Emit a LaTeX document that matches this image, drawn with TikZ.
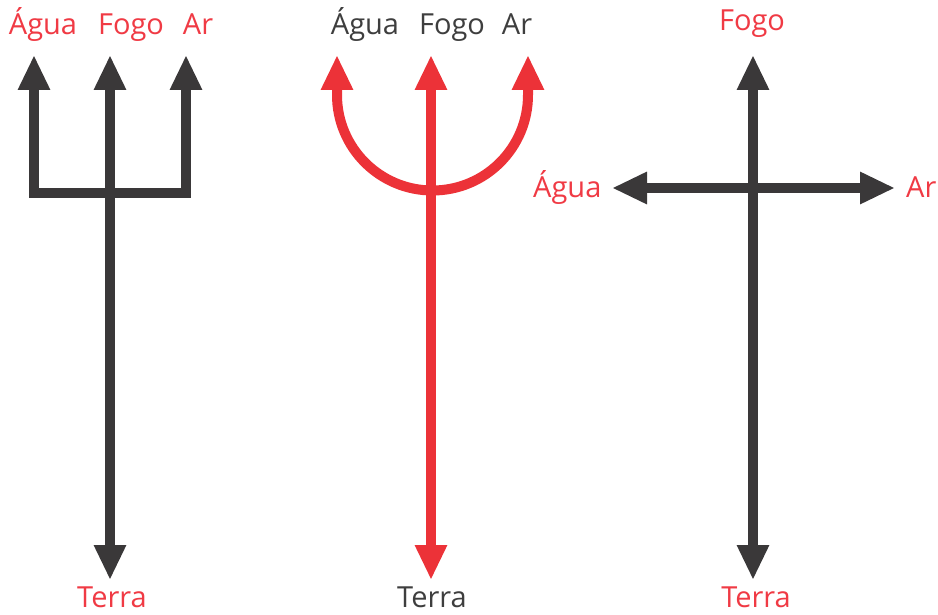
\documentclass[tikz,border=0pt]{standalone}
\usepackage{fontspec}
\setmainfont{Open Sans}
\usetikzlibrary{arrows.meta}
\definecolor{dk}{RGB}{58,56,57}
\definecolor{rd}{RGB}{236,50,56}
\definecolor{lrd}{RGB}{240,58,68}
\definecolor{gy}{RGB}{62,62,62}
\begin{document}
\begin{tikzpicture}[x=1pt,y=-1pt,
  arr/.style={line width=10pt,line join=miter,{Triangle[width=30pt,length=35pt]}-{Triangle[width=30pt,length=35pt]}},
  lab/.style={font=\fontsize{29}{32}\selectfont,inner sep=0pt,anchor=base}]
\fill[white] (0,0) rectangle (938,615);
\useasboundingbox (0,0) rectangle (938,615);
% labels
\node[lab,lrd] (a1) at (43,35) {Água};
\node[lab,lrd] (f1) at (131,35) {Fogo};
\node[lab,lrd] (r1) at (198,35) {Ar};
\node[lab,lrd] (t1) at (112,607) {Terra};
\node[lab,gy] (a2) at (365,35) {Água};
\node[lab,gy] (f2) at (452,35) {Fogo};
\node[lab,gy] (r2) at (517,35) {Ar};
\node[lab,gy] (t2) at (432,607) {Terra};
\node[lab,lrd] (f3) at (752,31) {Fogo};
\node[lab,lrd] (t3) at (756,607) {Terra};
\node[lab,lrd,anchor=base west] (a3) at (533,198) {Água};
\node[lab,lrd,anchor=base west] (r3) at (906,198) {Ar};
% left trident
\coordinate (p1) at (34,55); \coordinate (p1b) at (34,193);
\coordinate (p3) at (186,55); \coordinate (p3b) at (186,193);
\coordinate (p2) at (110,55); \coordinate (p2b) at (110,580);
\draw[dk,arr] (p1) -- (p1b) -- (p3b) -- (p3);
\draw[dk,arr] (p2) -- (p2b);
% middle trident
\coordinate (q1) at (337,55); \coordinate (q1b) at (337,95);
\coordinate (q3) at (528,55);
\coordinate (q2) at (431,55); \coordinate (q2b) at (431,580);
\draw[rd,arr] (q1) -- (q1b) arc[start angle=180,end angle=360,radius=95.5pt] -- (q3);
\draw[rd,arr] (q2) -- (q2b);
% cross
\coordinate (c1) at (753,55); \coordinate (c2) at (753,580);
\coordinate (c3) at (612,188); \coordinate (c4) at (895,188);
\draw[dk,arr] (c1) -- (c2);
\draw[dk,arr] (c3) -- (c4);
\end{tikzpicture}
\end{document}
